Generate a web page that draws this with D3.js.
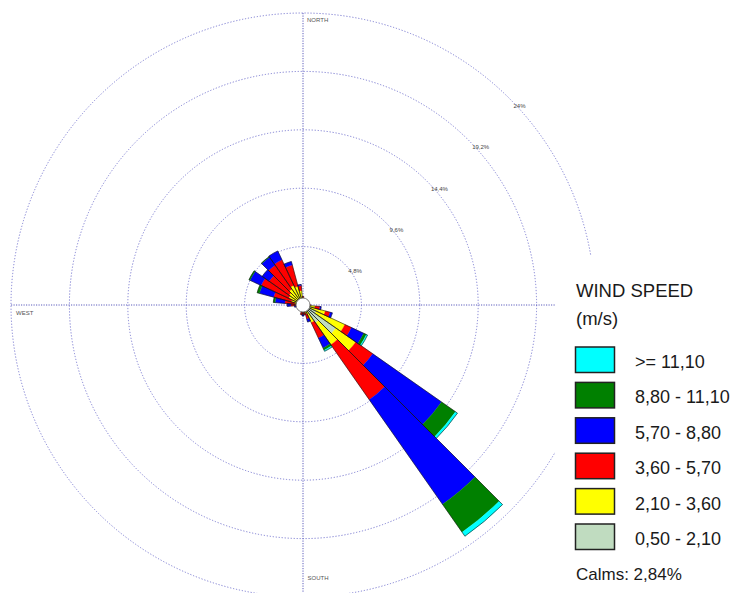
<!DOCTYPE html>
<html>
<head>
<meta charset="utf-8">
<script src="https://cdn.jsdelivr.net/npm/d3@7"></script>
<style>
  body { margin: 0; background: #fff; }
  svg { display: block; font-family: "Liberation Sans", Arial, sans-serif; }
</style>
</head>
<body>
<div id="chart"></div>
<script>
// directions every 10 degrees, clockwise from north
const directions = d3.range(0, 360, 10);

// frequency (%) per direction for each speed class
const speed_0_5_2_1 = [0.3,0.2,0.2,0.2,0.2,0.2,0.2,0.2,0.2,0.3,0.4,0.7,1.2,3.3,1.8,0.6,0.4,0.3,
                       0.3,0.3,0.2,0.2,0.2,0.2,0.2,0.2,0.2,0.3,0.3,0.4,0.5,0.5,0.6,0.6,0.5,0.4];
const speed_2_1_3_6 = [0.3,0.2,0.1,0.1,0.1,0.1,0.1,0.1,0.2,0.2,0.6,1.2,2.6,2.0,2.2,1.0,0.4,0.3,
                       0.3,0.3,0.2,0.1,0.1,0.1,0.1,0.2,0.2,0.3,0.4,0.6,0.8,0.9,1.0,1.2,1.1,0.8];
const speed_3_6_5_7 = [0.1,0,0,0,0,0,0,0,0,0.1,0.4,0.4,0.6,1.7,5.5,1.4,0.4,0.2,
                       0.2,0.2,0.1,0,0,0,0,0.1,0.2,0.4,0.8,1.5,2.5,2.0,2.4,2.3,1.8,0.4];
const speed_5_7_8_8 = [0,0,0,0,0,0,0,0,0,0,0.1,0.2,1.1,6.9,10.5,0.9,0.25,0,
                       0.1,0,0,0,0,0,0,0,0.1,0.3,0.8,1.2,1.0,0.7,0.8,0.8,0.3,0.1];
const speed_8_8_11_1 = [0,0,0,0,0,0,0,0,0,0,0,0,0.25,1.4,2.8,0.2,0,0,
                        0,0,0,0,0,0,0,0,0,0,0.15,0.2,0.1,0,0.05,0,0,0];
const speed_11_1_up = [0,0,0,0,0,0,0,0,0,0,0,0,0.1,0.2,0.4,0.1,0,0,
                       0,0,0,0,0,0,0,0,0,0,0,0,0,0,0,0,0,0];

const speedKeys = ["s1", "s2", "s3", "s4", "s5", "s6"];
const speedValues = [speed_0_5_2_1, speed_2_1_3_6, speed_3_6_5_7, speed_5_7_8_8, speed_8_8_11_1, speed_11_1_up];
const speedColors = ["#c0dcc0", "#ffff00", "#ff0000", "#0000ff", "#008000", "#00ffff"];
const legendLabels = [">= 11,10", "8,80 - 11,10", "5,70 - 8,80", "3,60 - 5,70", "2,10 - 3,60", "0,50 - 2,10"];

const ringValues = [4.8, 9.6, 14.4, 19.2, 24];
const ringLabels = ["4,8%", "9,6%", "14,4%", "19,2%", "24%"];
const calms = "Calms: 2,84%";

const width = 738, height = 593;
const cx = 303, cy = 305;

const svg = d3.select("#chart").append("svg")
  .attr("width", width)
  .attr("height", height);

const g = svg.append("g")
  .attr("transform", "translate(" + cx + "," + cy + ")");

const r = d3.scaleLinear().domain([0, 24]).range([0, 292]);
const toRad = (deg) => deg * Math.PI / 180;

// grid rings
g.selectAll(".ring")
  .data(ringValues)
  .enter()
  .append("circle")
  .attr("r", (d) => r(d))
  .attr("fill", "none")
  .attr("stroke", "#7c7cd2")
  .attr("stroke-width", 1)
  .attr("stroke-dasharray", "1.2,1.8");

// axes
const rMax = r(24);
g.append("line")
  .attr("x1", 0).attr("y1", -rMax).attr("x2", 0).attr("y2", rMax)
  .attr("stroke", "#5c5cbc").attr("stroke-dasharray", "1.2,1.3");
g.append("line")
  .attr("x1", -rMax).attr("y1", 0).attr("x2", rMax).attr("y2", 0)
  .attr("stroke", "#5c5cbc").attr("stroke-dasharray", "1.2,1.3");

// ring labels along 45 degrees
g.selectAll(".ring-label")
  .data(ringValues)
  .enter()
  .append("text")
  .attr("x", (d) => r(d) * Math.SQRT1_2 + 4)
  .attr("y", (d) => -r(d) * Math.SQRT1_2 + 9.5)
  .attr("font-size", "6px")
  .attr("fill", "#444")
  .text((d, i) => ringLabels[i]);

g.append("text").attr("x", 4).attr("y", -rMax + 8.5)
  .attr("font-size", "6px").attr("fill", "#555").text("NORTH");
g.append("text").attr("x", -rMax + 5).attr("y", 10)
  .attr("font-size", "6px").attr("fill", "#555").text("WEST");
g.append("text").attr("x", 4.5).attr("y", 275)
  .attr("font-size", "6px").attr("fill", "#555").text("SOUTH");

// stacked petals
const rows = directions.map((dir, i) => {
  const row = {dir: dir};
  speedKeys.forEach((k, j) => { row[k] = speedValues[j][i]; });
  return row;
});

const series = d3.stack().keys(speedKeys)(rows);

const arc = d3.arc()
  .innerRadius((d) => r(d[0]))
  .outerRadius((d) => r(d[1]))
  .startAngle((d) => toRad(d.data.dir - 5))
  .endAngle((d) => toRad(d.data.dir + 5));

g.selectAll(".speed")
  .data(series)
  .enter()
  .append("g")
  .attr("fill", (d, i) => speedColors[i])
  .selectAll("path")
  .data((d) => d.filter((p) => p[1] > p[0]))
  .enter()
  .append("path")
  .attr("d", arc)
  .attr("stroke", (d, i, nodes) => d3.select(nodes[i].parentNode).attr("fill"))
  .attr("stroke-width", 0.3);

// outline of each petal
const total = series[series.length - 1];
g.selectAll(".outline")
  .data(total.filter((p) => p[1] > 0))
  .enter()
  .append("path")
  .attr("d", d3.arc()
    .innerRadius(0)
    .outerRadius((d) => r(d[1]))
    .startAngle((d) => toRad(d.data.dir - 5))
    .endAngle((d) => toRad(d.data.dir + 5)))
  .attr("fill", "none")
  .attr("stroke", "#111")
  .attr("stroke-width", 0.6);

g.append("circle")
  .attr("r", 7)
  .attr("fill", "#fff")
  .attr("stroke", "#666")
  .attr("stroke-width", 0.8);

// legend
svg.append("rect")
  .attr("x", 555).attr("y", 255)
  .attr("width", width - 555).attr("height", height - 255)
  .attr("fill", "#fff");

const legend = svg.append("g").attr("font-size", "18.5px").attr("fill", "#1a1a1a");
legend.append("text").attr("x", 576).attr("y", 297).text("WIND SPEED");
legend.append("text").attr("x", 576).attr("y", 325).text("(m/s)");

const legendColors = speedColors.slice().reverse();
const rowY = d3.scaleLinear().domain([0, 1]).range([347, 382.4]);

const item = legend.selectAll(".legend")
  .data(legendLabels)
  .enter()
  .append("g")
  .attr("transform", (d, i) => "translate(0," + rowY(i) + ")");

item.append("rect")
  .attr("x", 575.5).attr("y", 0)
  .attr("width", 39).attr("height", 25.5)
  .attr("fill", (d, i) => legendColors[i])
  .attr("stroke", "#222")
  .attr("stroke-width", 1.5);

item.append("text")
  .attr("x", 635).attr("y", 21)
  .attr("font-size", "18px")
  .text((d) => d);

legend.append("text").attr("x", 576).attr("y", 580).attr("font-size", "17px").text(calms);
</script>
</body>
</html>
